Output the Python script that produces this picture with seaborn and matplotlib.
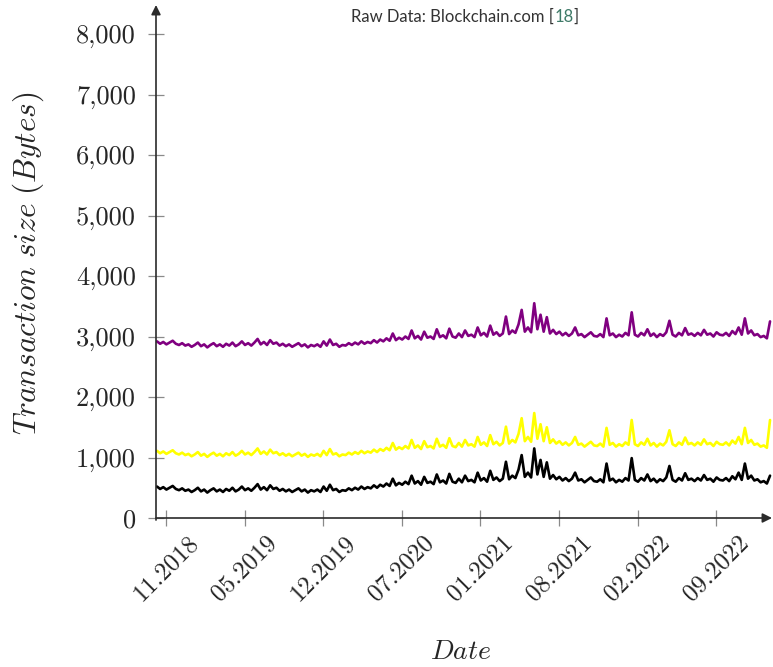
import matplotlib
matplotlib.use("Agg")
import matplotlib.pyplot as plt
import numpy as np
import pandas as pd
import seaborn as sns

# ---------------- data ----------------
days = list(range(0, 1561, 8))  # days since early Oct 2018

purple = [
    2920, 2880, 2910, 2870, 2900, 2930, 2880, 2860, 2890, 2850,
    2870, 2830, 2860, 2900, 2840, 2870, 2820, 2860, 2890, 2840,
    2870, 2830, 2880, 2850, 2900, 2840, 2870, 2920, 2860, 2890,
    2850, 2900, 2960, 2870, 2910, 2860, 2940, 2880, 2900, 2850,
    2880, 2840, 2870, 2830, 2860, 2890, 2840, 2870, 2820, 2860,
    2840, 2870, 2830, 2920, 2850, 2950, 2860, 2880, 2830, 2860,
    2850, 2890, 2860, 2900, 2870, 2920, 2880, 2910, 2890, 2940,
    2900, 2950, 2920, 2970, 2930, 3050, 2940, 2980, 2950, 3000,
    2960, 3100, 2970, 3010, 2950, 3080, 2980, 3000, 2960, 3120,
    2990, 3020, 2970, 3130, 3000, 2980, 3050, 2990, 3100, 3010,
    3030, 2990, 3150, 3020, 3060, 3000, 3180, 3030, 3070, 3010,
    3050, 3330, 3040, 3100, 3060, 3200, 3440, 3080, 3150, 3070,
    3550, 3120, 3360, 3080, 3320, 3050, 3110, 3040, 3080, 3020,
    3060, 3010, 3050, 3150, 3020, 3040, 2990, 3030, 3070, 3010,
    3000, 3040, 2990, 3300, 3020, 3050, 2990, 3030, 3000, 3060,
    3020, 3400, 3030, 3000, 3060, 3020, 3120, 3010, 3050, 2990,
    3040, 3010, 3070, 3260, 3030, 3000, 3060, 3020, 3140, 3030,
    3050, 3010, 3060, 3020, 3110, 3030, 3050, 3000, 3070, 3030,
    3020, 3060, 3010, 3090, 3040, 3150, 3030, 3300, 3050, 3100,
    3020, 3040, 2990, 3010, 2970, 3250,
]

yellow = [
    1110, 1070, 1100, 1060, 1090, 1120, 1070, 1050, 1080, 1040,
    1060, 1020, 1050, 1090, 1030, 1060, 1010, 1050, 1080, 1030,
    1060, 1020, 1070, 1040, 1090, 1030, 1060, 1110, 1050, 1080,
    1040, 1090, 1150, 1060, 1100, 1050, 1130, 1070, 1090, 1040,
    1070, 1030, 1060, 1020, 1050, 1080, 1030, 1060, 1010, 1050,
    1030, 1060, 1020, 1110, 1040, 1140, 1050, 1070, 1020, 1050,
    1040, 1080, 1050, 1090, 1060, 1110, 1070, 1100, 1080, 1130,
    1090, 1140, 1110, 1160, 1120, 1240, 1130, 1170, 1140, 1190,
    1150, 1290, 1160, 1200, 1140, 1270, 1170, 1190, 1150, 1310,
    1180, 1210, 1160, 1320, 1190, 1170, 1240, 1180, 1290, 1200,
    1220, 1180, 1340, 1210, 1250, 1190, 1370, 1220, 1260, 1200,
    1240, 1510, 1230, 1290, 1250, 1390, 1650, 1270, 1340, 1260,
    1735, 1310, 1550, 1270, 1500, 1240, 1300, 1230, 1270, 1210,
    1250, 1200, 1240, 1340, 1210, 1230, 1180, 1220, 1260, 1200,
    1190, 1230, 1180, 1490, 1210, 1240, 1180, 1220, 1190, 1250,
    1210, 1620, 1220, 1190, 1250, 1210, 1310, 1200, 1240, 1180,
    1230, 1200, 1260, 1450, 1220, 1190, 1250, 1210, 1330, 1220,
    1240, 1200, 1250, 1210, 1300, 1220, 1240, 1190, 1260, 1220,
    1210, 1250, 1200, 1280, 1230, 1340, 1220, 1490, 1240, 1290,
    1210, 1230, 1180, 1200, 1160, 1620,
]

black = [
    520, 480, 510, 470, 500, 530, 480, 460, 490, 450,
    470, 430, 460, 500, 440, 470, 420, 460, 490, 440,
    470, 430, 480, 450, 500, 440, 470, 520, 460, 490,
    450, 500, 560, 470, 510, 460, 540, 480, 500, 450,
    480, 440, 470, 430, 460, 490, 440, 470, 420, 460,
    440, 470, 430, 520, 450, 550, 460, 480, 430, 460,
    450, 490, 460, 500, 470, 520, 480, 510, 490, 540,
    500, 550, 520, 570, 530, 650, 540, 580, 550, 600,
    560, 700, 570, 610, 550, 680, 580, 600, 560, 720,
    590, 620, 570, 730, 600, 580, 650, 590, 700, 610,
    630, 590, 750, 620, 660, 600, 780, 630, 670, 610,
    650, 930, 640, 700, 660, 800, 1040, 680, 750, 670,
    1150, 720, 960, 680, 920, 650, 710, 640, 680, 620,
    660, 610, 650, 750, 620, 640, 590, 630, 670, 610,
    600, 640, 590, 900, 620, 650, 590, 630, 600, 660,
    620, 990, 630, 600, 660, 620, 720, 610, 650, 590,
    640, 610, 670, 860, 630, 600, 660, 620, 740, 630,
    650, 610, 660, 620, 710, 630, 650, 600, 670, 630,
    620, 660, 610, 690, 640, 750, 630, 900, 650, 700,
    620, 640, 590, 610, 570, 700,
]

tick_days = [23, 223, 423, 623, 823, 1023, 1223, 1423]
tick_labels = ["11.2018", "05.2019", "12.2019", "07.2020",
               "01.2021", "08.2021", "02.2022", "09.2022"]
ytick_vals = [0, 1000, 2000, 3000, 4000, 5000, 6000, 7000, 8000]

# ---------------- style ----------------
sns.set_theme(style="white")
plt.rcParams["mathtext.fontset"] = "cm"
plt.rcParams["font.family"] = ["cmr10", "DejaVu Serif"]
plt.rcParams["axes.formatter.use_mathtext"] = True

W, H = 773, 667
fig = plt.figure(figsize=(W / 100, H / 100), dpi=100)
ax = fig.add_axes([156 / W, (H - 518) / H, (772 - 156) / W, (518 - 5) / H])

df = pd.concat([
    pd.DataFrame({"day": days, "size": purple, "series": "purple"}),
    pd.DataFrame({"day": days, "size": yellow, "series": "yellow"}),
    pd.DataFrame({"day": days, "size": black, "series": "black"}),
])
palette = {"purple": "#800080", "yellow": "#FFFF00", "black": "#000000"}
sns.lineplot(data=df, x="day", y="size", hue="series", palette=palette,
             estimator=None, legend=False, linewidth=1.9, ax=ax)

ax.set_xlim(-2.5, 1565)
ax.set_ylim(0, 8480)

for s in ax.spines.values():
    s.set_visible(False)

axis_col = "#2b2b2b"
ax.annotate("", xy=(1.0, 0.0), xytext=(0.0, 0.0), xycoords="axes fraction",
            arrowprops=dict(arrowstyle="-|>", color=axis_col, lw=1.2,
                            mutation_scale=14, shrinkA=0, shrinkB=0))
ax.annotate("", xy=(0.0, 1.0), xytext=(0.0, -0.004), xycoords="axes fraction",
            arrowprops=dict(arrowstyle="-|>", color=axis_col, lw=1.2,
                            mutation_scale=14, shrinkA=0, shrinkB=0))

ax.set_yticks(ytick_vals)
ax.set_yticklabels([f"{v:,}" for v in ytick_vals], fontsize=19)
ax.set_xticks(tick_days)
ax.set_xticklabels(tick_labels, fontsize=18, rotation=45, ha="center",
                   va="center", rotation_mode="anchor")
ax.tick_params(axis="both", direction="inout", length=11, width=0.9,
               color="#8a8a8a", left=True, bottom=True)
ax.tick_params(axis="y", pad=9)
ax.tick_params(axis="x", pad=31)

ax.set_xlabel("")
ax.set_ylabel("")
fig.text(28 / W, 1 - 263 / H, r"$Transaction\ size\ (Bytes)$", fontsize=22.5,
         rotation=90, ha="center", va="center")
fig.text(461 / W, 1 - 652 / H, r"$Date$", fontsize=20, ha="center", va="center")

# source note, centred at x=465
note_font = dict(fontsize=12, family=["Lato", "DejaVu Sans"], va="center")
yN = 1 - 16.5 / H
parts = [("Raw Data: Blockchain.com [", "#333333"), ("18", "#3f7a68"), ("]", "#333333")]
texts = [fig.text(0, yN, s, color=c, ha="left", **note_font) for s, c in parts]
fig.canvas.draw()
r = fig.canvas.get_renderer()
widths = [t.get_window_extent(r).width for t in texts]
x = 465 - sum(widths) / 2
for t, w in zip(texts, widths):
    t.set_x(x / W)
    x += w

fig.savefig("out.png", dpi=100)
